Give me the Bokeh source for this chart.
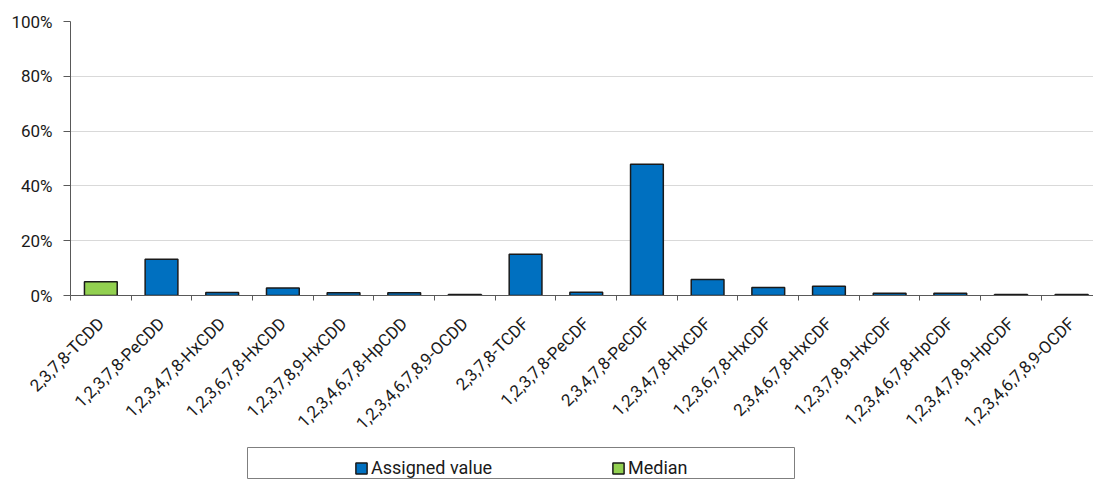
import numpy as np
from bokeh.plotting import figure
from bokeh.models import (Range1d, FixedTicker, NumeralTickFormatter, ColumnDataSource,
                          Legend, LegendItem, Spacer, CustomJSTickFormatter)
from bokeh.layouts import column, row
from bokeh.transform import factor_cmap
from bokeh.embed import file_html
from bokeh.resources import INLINE
from math import pi

categories = ["2,3,7,8-TCDD", "1,2,3,7,8-PeCDD", "1,2,3,4,7,8-HxCDD", "1,2,3,6,7,8-HxCDD",
              "1,2,3,7,8,9-HxCDD", "1,2,3,4,6,7,8-HpCDD", "1,2,3,4,6,7,8,9-OCDD",
              "2,3,7,8-TCDF", "1,2,3,7,8-PeCDF", "2,3,4,7,8-PeCDF", "1,2,3,4,7,8-HxCDF",
              "1,2,3,6,7,8-HxCDF", "2,3,4,6,7,8-HxCDF", "1,2,3,7,8,9-HxCDF",
              "1,2,3,4,6,7,8-HpCDF", "1,2,3,4,7,8,9-HpCDF", "1,2,3,4,6,7,8,9-OCDF"]
values_pct = [5.0, 13.2, 1.1, 2.7, 1.0, 1.0, 0.4, 15.1, 1.2, 47.9, 5.8, 2.9, 3.4,
              0.8, 0.8, 0.4, 0.4]
series = ["Median"] + ["Assigned value"] * 16
series_names = ["Assigned value", "Median"]
series_colors = ["#0070C0", "#92D050"]
y_ticks = [0, 0.2, 0.4, 0.6, 0.8, 1.0]

FONT = "Roboto"
TXT = "#1a1a1a"
AX = "#595959"

n = len(categories)
xs = np.arange(n) + 0.5
src = ColumnDataSource(dict(x=xs, top=np.array(values_pct) / 100.0, series=series))

p = figure(width=1093, height=447, x_range=Range1d(0, 16.86), y_range=Range1d(0, 1),
           toolbar_location=None, output_backend="svg",
           min_border_left=70, min_border_right=0, min_border_top=21, min_border_bottom=152)
p.outline_line_color = None

p.vbar(x="x", top="top", width=0.54, source=src,
       fill_color=factor_cmap("series", palette=series_colors, factors=series_names),
       line_color="#1a1a1a", line_width=1.5)

p.xgrid.grid_line_color = None
p.ygrid.grid_line_color = "#d9d9d9"
p.ygrid.ticker = FixedTicker(ticks=y_ticks)

xa = p.xaxis[0]
xa.ticker = FixedTicker(ticks=list(xs), minor_ticks=list(range(n + 1)))
xa.formatter = CustomJSTickFormatter(args=dict(cats=categories),
                                     code="return cats[Math.floor(tick)];")
xa.major_label_orientation = pi / 4
xa.major_tick_line_color = None
xa.major_tick_out = 0
xa.major_tick_in = 0
xa.minor_tick_out = 5
xa.minor_tick_in = 0
xa.minor_tick_line_color = AX
xa.axis_line_color = AX
xa.major_label_standoff = 20
xa.major_label_text_font = FONT
xa.major_label_text_font_size = "17px"
xa.major_label_text_color = TXT

ya = p.yaxis[0]
ya.ticker = FixedTicker(ticks=y_ticks)
ya.formatter = NumeralTickFormatter(format="0%")
ya.major_tick_out = 7
ya.major_tick_in = 0
ya.minor_tick_line_color = None
ya.major_tick_line_color = AX
ya.axis_line_color = AX
ya.major_label_standoff = 11
ya.major_label_text_font = FONT
ya.major_label_text_font_size = "17px"
ya.major_label_text_color = TXT

# legend box as its own small figure
legfig = figure(width=548, height=32, x_range=Range1d(0, 1), y_range=Range1d(0, 1),
                toolbar_location=None, output_backend="svg",
                x_axis_location=None, y_axis_location=None, min_border=0)
legfig.grid.visible = False
legfig.outline_line_color = "#7f7f7f"
items = []
for name, col in zip(series_names, series_colors):
    lsrc = ColumnDataSource(dict(x=[np.nan], top=[np.nan]))
    r = legfig.vbar(x="x", top="top", width=0.5, source=lsrc,
                    fill_color=col, line_color="#1a1a1a", line_width=1.5)
    items.append(LegendItem(label=name, renderers=[r]))
legend = Legend(items=items, orientation="horizontal", location=(107, 1), padding=0, margin=0,
                border_line_color=None, background_fill_alpha=0, glyph_width=14, glyph_height=14,
                label_standoff=3, label_width=140, spacing=100,
                label_text_font=FONT, label_text_font_size="18px", label_text_color=TXT)
legfig.add_layout(legend)

layout = column(p, row(Spacer(width=247), legfig))
open("out.html", "w").write(file_html(layout, INLINE))
